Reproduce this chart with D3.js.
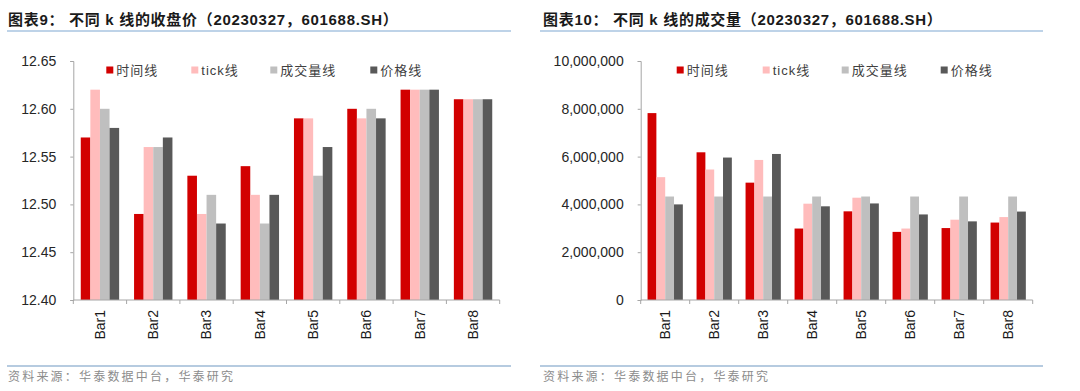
<!DOCTYPE html>
<html>
<head>
<meta charset="utf-8">
<script src="https://cdn.jsdelivr.net/npm/d3@7"></script>
<style>
  body { margin: 0; background: #fff; }
  svg text { font-family: "Liberation Sans", Arial, "Noto Sans CJK SC", sans-serif; }
</style>
</head>
<body>
<div id="chart"></div>
<script>
// categories + series
const categories = ["Bar1", "Bar2", "Bar3", "Bar4", "Bar5", "Bar6", "Bar7", "Bar8"];
const seriesNames = ["时间线", "tick线", "成交量线", "价格线"];
const seriesColors = ["#d20000", "#ffbcbc", "#bfbfbf", "#595959"];

// 图表9: close price
const closeTime   = [12.57, 12.49, 12.53, 12.54, 12.59, 12.60, 12.62, 12.61];
const closeTick   = [12.62, 12.56, 12.49, 12.51, 12.59, 12.59, 12.62, 12.61];
const closeVolume = [12.60, 12.56, 12.51, 12.48, 12.53, 12.60, 12.62, 12.61];
const closePrice  = [12.58, 12.57, 12.48, 12.51, 12.56, 12.59, 12.62, 12.61];
const closeTicks  = [12.40, 12.45, 12.50, 12.55, 12.60, 12.65];

// 图表10: volume
const volTime   = [7820000, 6180000, 4910000, 2990000, 3710000, 2850000, 3010000, 3240000];
const volTick   = [5140000, 5460000, 5860000, 4030000, 4280000, 2990000, 3360000, 3470000];
const volVolume = [4330000, 4330000, 4330000, 4330000, 4330000, 4330000, 4330000, 4330000];
const volPrice  = [4000000, 5960000, 6110000, 3920000, 4040000, 3580000, 3290000, 3700000];
const volTicks  = [0, 2000000, 4000000, 6000000, 8000000, 10000000];

const svg = d3.select("#chart")
  .append("svg")
  .attr("width", 1080)
  .attr("height", 391);

function drawChart(cfg) {
  const root = svg.append("g").attr("transform", `translate(${cfg.left},0)`);

  // title + blue rules
  root.append("text")
    .attr("x", cfg.titleX)
    .attr("y", 25)
    .attr("font-size", 15)
    .attr("letter-spacing", 0.7)
    .attr("font-weight", "bold")
    .attr("fill", "#1a1a1a")
    .text(cfg.title);

  root.append("line")
    .attr("x1", cfg.ruleX0).attr("x2", cfg.ruleX1)
    .attr("y1", 31).attr("y2", 31)
    .attr("stroke", "#a9c4e0").attr("stroke-width", 1.3);

  root.append("line")
    .attr("x1", cfg.ruleX0).attr("x2", cfg.ruleX1)
    .attr("y1", 366).attr("y2", 366)
    .attr("stroke", "#b6cbe0").attr("stroke-width", 2);

  root.append("text")
    .attr("x", cfg.titleX)
    .attr("y", 381)
    .attr("font-size", 12)
    .attr("letter-spacing", 2.2)
    .attr("fill", "#8c8c8c")
    .style("font-family", "'Noto Sans CJK SC', sans-serif")
    .text("资料来源：华泰数据中台，华泰研究");

  const plotW = cfg.plotX1 - cfg.plotX0;
  const g = root.append("g").attr("transform", `translate(${cfg.plotX0},61)`);
  const h = 239;

  const x = d3.scaleBand().domain(categories).range([0, plotW]).paddingInner(0.28).paddingOuter(0.14);
  const x1 = d3.scaleBand().domain(seriesNames).range([0, x.bandwidth()]);
  const y = d3.scaleLinear().domain(cfg.domain).range([h, 0]);

  // bars
  const rows = categories.map((c, i) => ({ cat: c, vals: cfg.series.map(s => s[i]) }));
  g.selectAll("g.grp")
    .data(rows)
    .join("g")
    .attr("class", "grp")
    .attr("transform", d => `translate(${x(d.cat)},0)`)
    .selectAll("rect")
    .data(d => d.vals.map((v, k) => ({ v, k })))
    .join("rect")
    .attr("x", d => x1(seriesNames[d.k]))
    .attr("width", x1.bandwidth())
    .attr("y", d => y(d.v))
    .attr("height", d => h - y(d.v))
    .attr("fill", d => seriesColors[d.k]);

  // y axis
  const yAxis = g.append("g")
    .call(d3.axisLeft(y).tickValues(cfg.ticks).tickFormat(cfg.fmt).tickSize(3).tickPadding(14));
  yAxis.select(".domain").attr("stroke", "#a6a6a6");
  yAxis.selectAll(".tick line").attr("stroke", "#a6a6a6");
  yAxis.selectAll("text")
    .attr("font-size", 14)
    .attr("fill", "#262626")
    .style("font-family", "'Liberation Sans', Arial, sans-serif");

  // x axis: tick marks on band edges, labels rotated
  const xAxisG = g.append("g").attr("transform", `translate(0,${h})`);
  xAxisG.append("line")
    .attr("x1", 0).attr("x2", plotW)
    .attr("stroke", "#a6a6a6");
  const step = plotW / categories.length;
  xAxisG.selectAll("line.tk")
    .data(d3.range(categories.length + 1))
    .join("line")
    .attr("class", "tk")
    .attr("x1", d => d * step).attr("x2", d => d * step)
    .attr("y1", 0).attr("y2", 4)
    .attr("stroke", "#a6a6a6");
  xAxisG.selectAll("text")
    .data(categories)
    .join("text")
    .attr("transform", d => `translate(${x(d) + x.bandwidth() / 2},10) rotate(-90)`)
    .attr("text-anchor", "end")
    .attr("dy", "0.35em")
    .attr("font-size", 14)
    .attr("fill", "#1a1a1a")
    .style("font-family", "'Liberation Sans', Arial, sans-serif")
    .text(d => d);

  // legend
  const leg = g.append("g").attr("transform", "translate(0,9)");
  seriesNames.forEach((name, k) => {
    const lx = cfg.legendX[k];
    leg.append("rect")
      .attr("x", lx).attr("y", -3.5)
      .attr("width", 7).attr("height", 7)
      .attr("fill", seriesColors[k]);
    leg.append("text")
      .attr("x", lx + 10)
      .attr("y", 0)
      .attr("dy", "0.36em")
      .attr("font-size", 13)
      .attr("letter-spacing", 1)
      .attr("fill", "#404040")
      .text(name);
  });
}

drawChart({
  left: 0,
  title: "图表9：  不同 k 线的收盘价（20230327，601688.SH）",
  titleX: 8,
  ruleX0: 7, ruleX1: 511,
  plotX0: 73.3, plotX1: 499.7,
  domain: [12.40, 12.65],
  ticks: closeTicks,
  fmt: d3.format(".2f"),
  series: [closeTime, closeTick, closeVolume, closePrice],
  legendX: [33, 118, 197, 297]
});

drawChart({
  left: 540,
  title: "图表10：  不同 k 线的成交量（20230327，601688.SH）",
  titleX: 3,
  ruleX0: 0, ruleX1: 503,
  plotX0: 100.7, plotX1: 492.7,
  domain: [0, 10000000],
  ticks: volTicks,
  fmt: d3.format(",d"),
  series: [volTime, volTick, volVolume, volPrice],
  legendX: [36, 122, 201, 300]
});
</script>
</body>
</html>
